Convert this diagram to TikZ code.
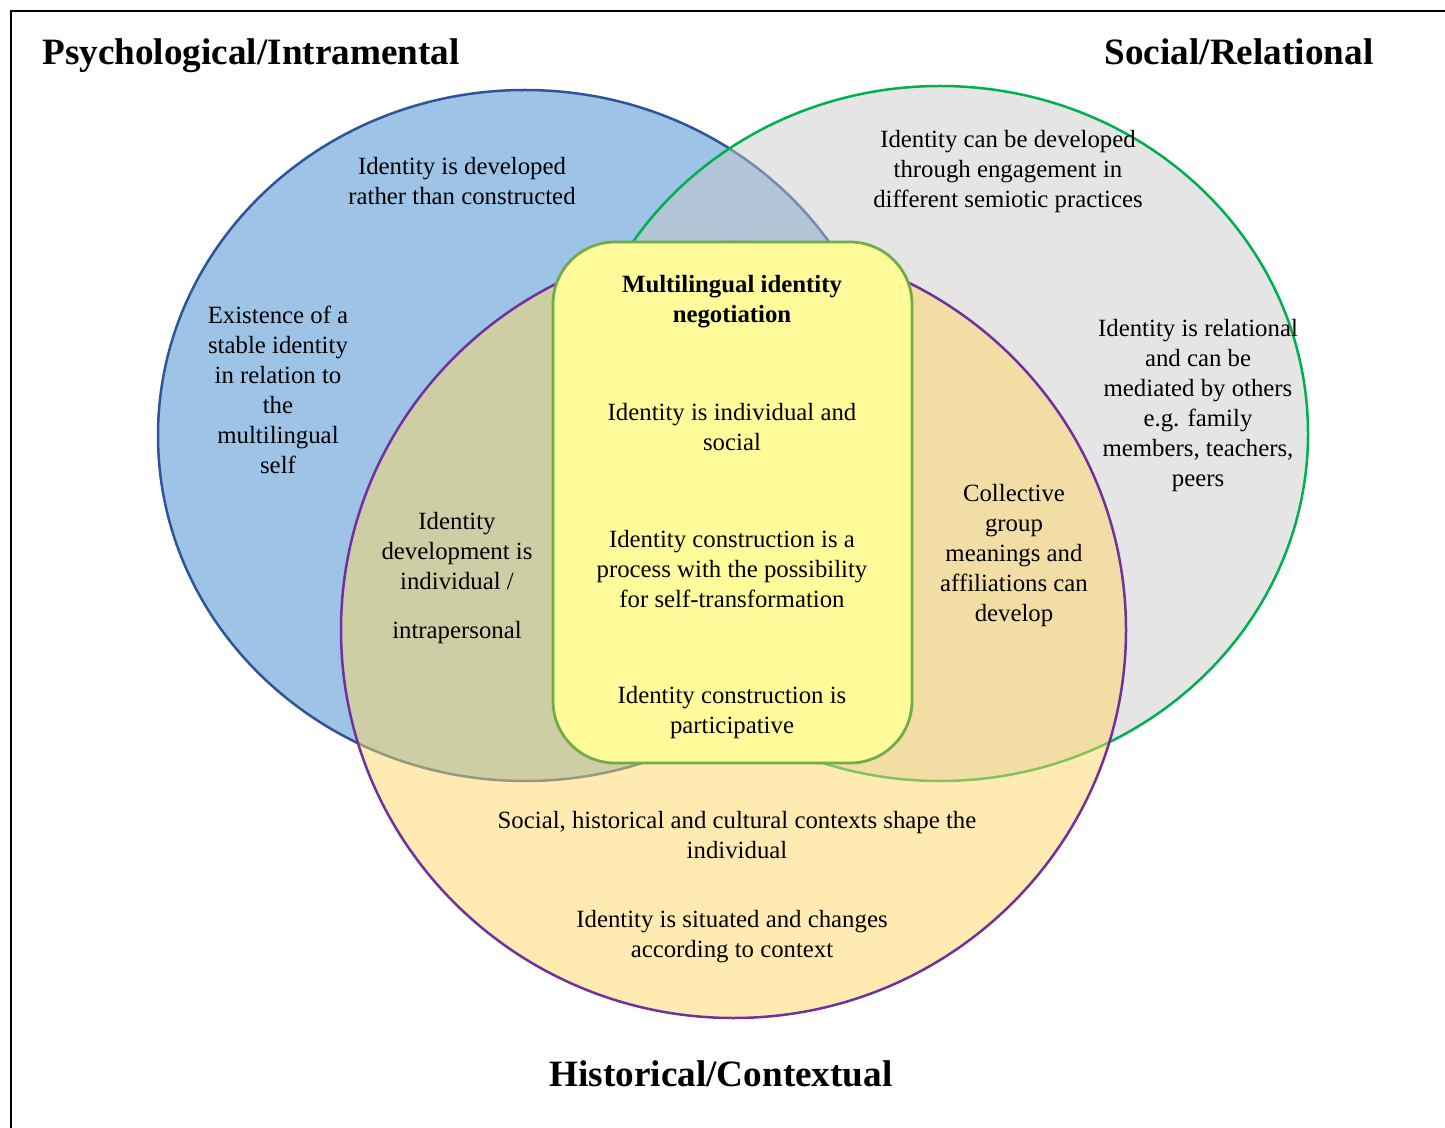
\documentclass[tikz,border=0pt]{standalone}
\usepackage{fontspec}
\setmainfont{Liberation Serif}
\definecolor{blueFill}{HTML}{9DC3E6}
\definecolor{blueLine}{HTML}{2F5597}
\definecolor{grayFill}{HTML}{C8C8C8}
\definecolor{greenLine}{HTML}{00B050}
\definecolor{yellowFill}{HTML}{FFD966}
\definecolor{purpleLine}{HTML}{7030A0}
\definecolor{coreFill}{HTML}{FFFB9B}
\definecolor{coreLine}{HTML}{70AD47}
\begin{document}
\begin{tikzpicture}[x=0.5pt,y=-0.5pt,
  body/.style={font=\fontsize{12.4}{15}\selectfont, align=center, inner sep=0pt, text=black},
  head/.style={font=\fontsize{18.6}{22}\selectfont\bfseries, inner sep=0pt, text=black, anchor=base},
  ring/.style={line width=1.25pt}]
\useasboundingbox (0,0) rectangle (1445,1128);
\fill[white] (0,0) rectangle (1445,1128);
% open frame along the top and left
\draw[line width=1.4pt] (11,1140) -- (11,11) -- (1460,11);

% the three overlapping spheres
\path[ring, fill=blueFill, draw=blueLine]
  (525,435.5) ellipse [x radius=183.5pt, y radius=172.75pt];
\path[ring, fill=grayFill, fill opacity=0.47, draw=greenLine]
  (940,433.5) ellipse [x radius=184pt, y radius=173.75pt];
\path[ring, fill=yellowFill, fill opacity=0.5, draw=purpleLine]
  (733.5,630) ellipse [x radius=196.25pt, y radius=194pt];

% central negotiation box
\node[draw=coreLine, line width=1.4pt, fill=coreFill, rounded corners=31pt,
      minimum width=179.5pt, minimum height=260.5pt, inner sep=0pt]
  (core) at (732.5,502.5) {};

% sphere titles
\node[head] (psy) at (251,65) {Psychological/Intramental};
\node[head] (soc) at (1239,65) {Social/Relational};
\node[head] (his) at (721,1086) {Historical/Contextual};

% psychological sphere
\node[body] (p1) at (462,181) {Identity is developed\\rather than constructed};
\node[body] (p2) at (278,390) {Existence of a\\stable identity\\in relation to\\the\\multilingual\\self};
\node[body] (p3) at (457,578) {Identity\\development is\\individual /\\[9.5pt]intrapersonal};

% social sphere
\node[body] (s1) at (1008,172) {Identity can be developed\\through engagement in\\different semiotic practices};
\node[body] (s2) at (1198,406) {Identity is relational\\and can be\\mediated by others\\e.g. family\\members, teachers,\\peers};
\node[body] (s3) at (1014,556) {Collective\\group\\meanings and\\affiliations can\\develop};

% centre
\node[body, font=\fontsize{12.4}{15}\selectfont\bfseries] (c0) at (732,302) {Multilingual identity\\negotiation};
\node[body] (c1) at (732,427) {Identity is individual and\\social};
\node[body] (c2) at (732,569) {Identity construction is a\\process with the possibility\\for self-transformation};
\node[body] (c3) at (732,713) {Identity construction is\\participative};

% historical sphere
\node[body] (h1) at (737,835) {Social, historical and cultural contexts shape the\\individual};
\node[body] (h2) at (732,937) {Identity is situated and changes\\according to context};
\end{tikzpicture}
\end{document}
